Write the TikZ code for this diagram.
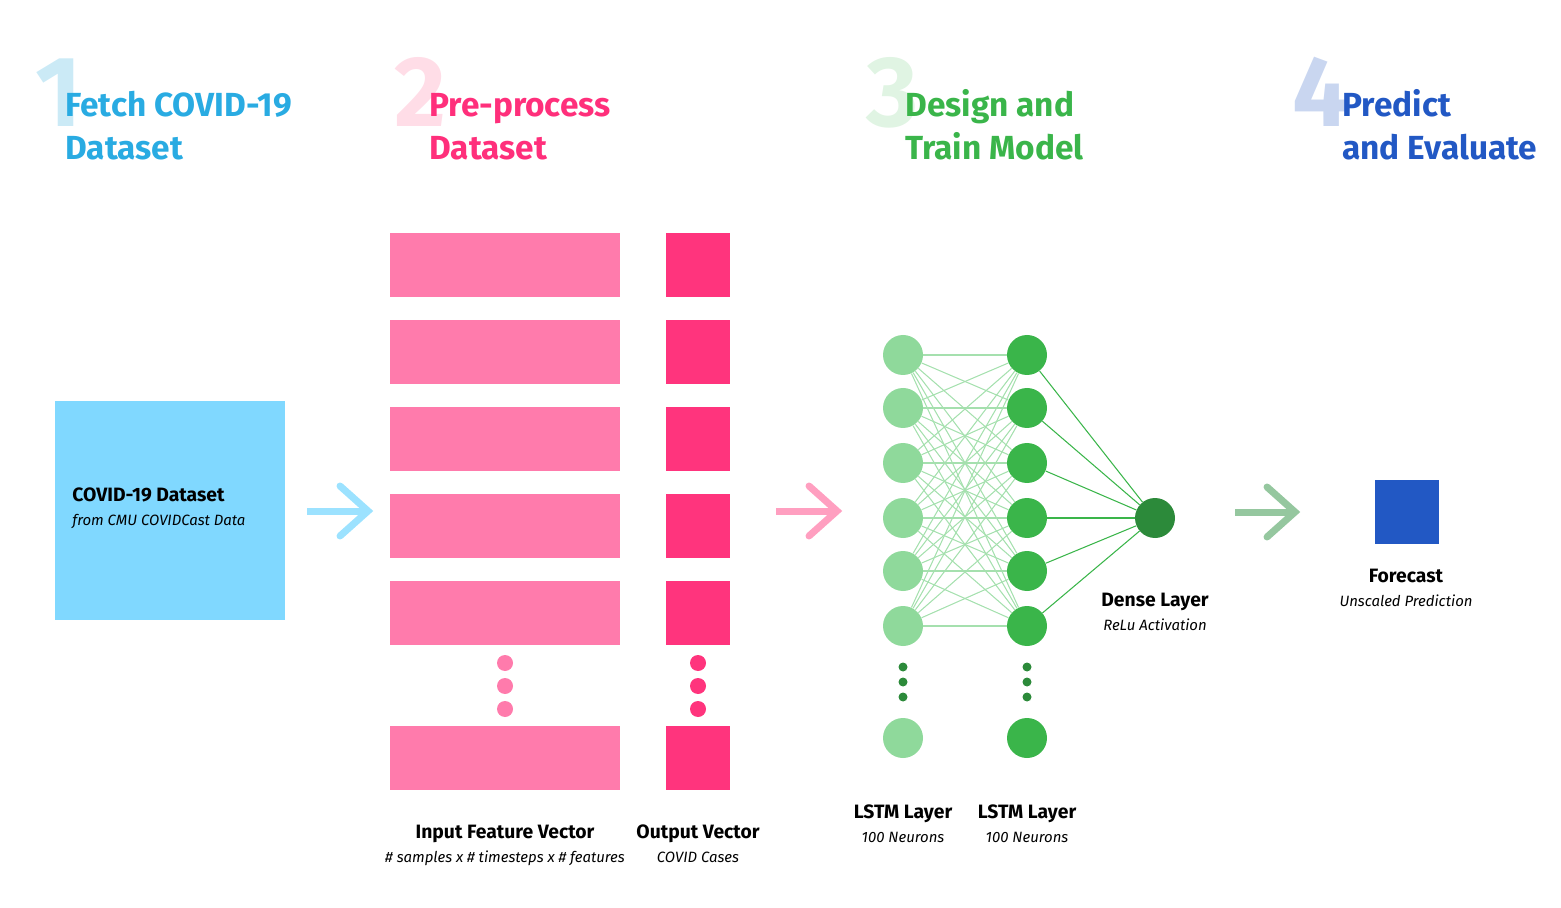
\documentclass[tikz,border=0pt]{standalone}
\usepackage{fontspec}
\setmainfont{Fira Sans}
\usetikzlibrary{positioning}
\definecolor{fetchblue}{HTML}{29ABE2}
\definecolor{fetchpale}{HTML}{CBEAF6}
\definecolor{boxblue}{HTML}{80D8FF}
\definecolor{arrowblue}{HTML}{9CE2FF}
\definecolor{prepink}{HTML}{FF2F7B}
\definecolor{prepale}{HTML}{FFDDE7}
\definecolor{barpink}{HTML}{FF7BAC}
\definecolor{sqpink}{HTML}{FF347D}
\definecolor{arrowpink}{HTML}{FF9FC0}
\definecolor{modgreen}{HTML}{3AB54A}
\definecolor{modpale}{HTML}{E0F4E3}
\definecolor{lstmlight}{HTML}{8FD99B}
\definecolor{densegreen}{HTML}{2C8A3A}
\definecolor{edgelight}{HTML}{A5E0AE}
\definecolor{arrowgreen}{HTML}{95C79F}
\definecolor{evalblue}{HTML}{2258C4}
\definecolor{evalpale}{HTML}{C9D6F0}
\begin{document}
\begin{tikzpicture}[
    x=0.02cm, y=-0.02cm,
    bignum/.style={anchor=base west, inner sep=0pt, font=\fontsize{57}{57}\selectfont\bfseries},
    heading/.style={anchor=base west, inner sep=0pt, font=\fontsize{19}{23}\selectfont\bfseries},
    title/.style={anchor=base, inner sep=0pt, font=\fontsize{11}{13}\selectfont\bfseries},
    sub/.style={anchor=base, inner sep=0pt, font=\fontsize{8.5}{10}\selectfont\itshape},
    bar/.style={fill=barpink, minimum width=230*0.02cm, minimum height=64*0.02cm, inner sep=0pt},
    outsq/.style={fill=sqpink, minimum width=64*0.02cm, minimum height=64*0.02cm, inner sep=0pt},
    dot/.style={circle, inner sep=0pt, minimum size=16*0.02cm},
    smalldot/.style={circle, fill=densegreen, inner sep=0pt, minimum size=9*0.02cm},
    neuron/.style={circle, inner sep=0pt, minimum size=40*0.02cm},
    step arrow/.style={line width=7*0.02cm},
    head arrow/.style={line width=7*0.02cm, line cap=round, line join=miter}]
    \useasboundingbox (0,0) rectangle (1561,908);

    % headings
    \node[bignum, text=fetchpale] (n1) at (35,127) {1};
    \node[heading, text=fetchblue] (h1a) at (65,117) {Fetch COVID-19};
    \node[heading, text=fetchblue] (h1b) at (65,160) {Dataset};
    \node[bignum, text=prepale] (n2) at (394,127) {2};
    \node[heading, text=prepink] (h2a) at (429,117) {Pre-process};
    \node[heading, text=prepink] (h2b) at (429,160) {Dataset};
    \node[bignum, text=modpale] (n3) at (866,127) {3};
    \node[heading, text=modgreen] (h3a) at (905,117) {Design and};
    \node[heading, text=modgreen] (h3b) at (905,160) {Train Model};
    \node[bignum, text=evalpale] (n4) at (1292,127) {4};
    \node[heading, text=evalblue] (h4a) at (1342,117) {Predict};
    \node[heading, text=evalblue] (h4b) at (1342,160) {and Evaluate};

    % dataset
    \node[fill=boxblue, minimum width=230*0.02cm, minimum height=219*0.02cm, inner sep=0pt] (data) at (170,510.5) {};
    \node[anchor=base west, inner sep=0pt, font=\fontsize{11}{13}\selectfont\bfseries] (dataname) at (72,501) {COVID-19 Dataset};
    \node[anchor=base west, inner sep=0pt, font=\fontsize{8.5}{10}\selectfont\itshape] (datasrc) at (72,525) {from CMU COVIDCast Data};

    \coordinate (a1s) at (307,511);
    \coordinate (a1e) at (368,511);
    \draw[step arrow, arrowblue] (a1s) -- (a1e);
    \draw[head arrow, arrowblue] ([shift={(-28,-25)}]a1e) -- (a1e) -- ++(-28,25);

    % input and output vectors
    \foreach \y [count=\i] in {265,352,439,526,613,758} {
        \node[bar] (in\i) at (505,\y) {};
        \node[outsq] (out\i) at (698,\y) {};
    }
    \foreach \y in {663,686,709} {
        \node[dot, fill=barpink] at (505,\y) {};
        \node[dot, fill=sqpink] at (698,\y) {};
    }
    \node[title] (inname) at (505,838) {Input Feature Vector};
    \node[sub] (indim) at (505,862) {\# samples x \# timesteps x \# features};
    \node[title] (outname) at (698,838) {Output Vector};
    \node[sub] (outdim) at (698,862) {COVID Cases};

    \coordinate (a2s) at (776,511);
    \coordinate (a2e) at (837,511);
    \draw[step arrow, arrowpink] (a2s) -- (a2e);
    \draw[head arrow, arrowpink] ([shift={(-28,-25)}]a2e) -- (a2e) -- ++(-28,25);

    % network
    \foreach \y [count=\i] in {355,408,463,518,571,626,738} {
        \node[neuron, fill=lstmlight] (l\i) at (903,\y) {};
        \node[neuron, fill=modgreen] (r\i) at (1027,\y) {};
    }
    \node[neuron, fill=densegreen] (dense) at (1155,518) {};
    \foreach \y in {667,682,697} {
        \node[smalldot] at (903,\y) {};
        \node[smalldot] at (1027,\y) {};
    }
    \foreach \i in {1,...,6} {
        \foreach \j in {1,...,6} {
            \draw[edgelight, line width=0.6pt] (l\i) -- (r\j);
        }
        \draw[modgreen, line width=0.6pt] (r\i) -- (dense);
    }
    \node[title] (lstma) at (903,818) {LSTM Layer};
    \node[sub] (lstman) at (903,842) {100 Neurons};
    \node[title] (lstmb) at (1027,818) {LSTM Layer};
    \node[sub] (lstmbn) at (1027,842) {100 Neurons};
    \node[title] (densename) at (1155,606) {Dense Layer};
    \node[sub] (denseact) at (1155,630) {ReLu Activation};

    \coordinate (a3s) at (1235,512);
    \coordinate (a3e) at (1295,512);
    \draw[step arrow, arrowgreen] (a3s) -- (a3e);
    \draw[head arrow, arrowgreen] ([shift={(-28,-25)}]a3e) -- (a3e) -- ++(-28,25);

    % forecast
    \node[fill=evalblue, minimum width=64*0.02cm, minimum height=64*0.02cm, inner sep=0pt] (fc) at (1407,512) {};
    \node[title] (fcname) at (1406,582) {Forecast};
    \node[sub] (fcnote) at (1406,606) {Unscaled Prediction};
\end{tikzpicture}
\end{document}
